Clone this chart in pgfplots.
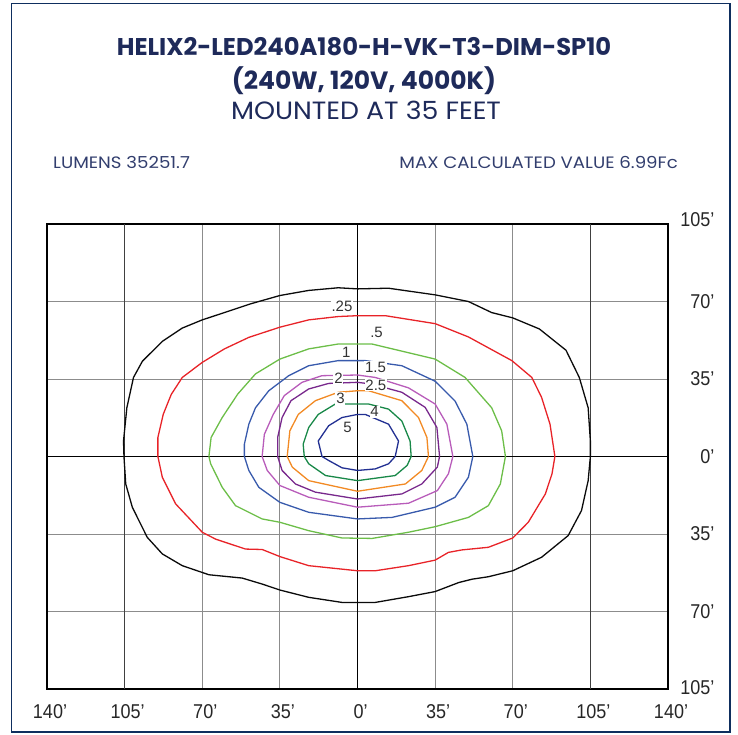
\documentclass[border=0pt]{standalone}
\usepackage{fontspec}
\usepackage{pgfplots}
\pgfplotsset{compat=1.18}
\setmainfont{Liberation Sans}
\newfontfamily\titlefont{Poppins}
\newfontfamily\tickfont{Liberation Sans}[FakeStretch=0.9]
\definecolor{navy}{RGB}{30,42,90}
\definecolor{bordernavy}{RGB}{14,46,94}
\definecolor{txtnavy}{RGB}{50,62,110}
\definecolor{cBlack}{RGB}{10,10,10}
\definecolor{cRed}{RGB}{232,35,40}
\definecolor{cGreen}{RGB}{108,190,72}
\definecolor{cBlue}{RGB}{56,90,172}
\definecolor{cPink}{RGB}{184,92,186}
\definecolor{cPurple}{RGB}{120,40,140}
\definecolor{cOrange}{RGB}{242,138,36}
\definecolor{cDGreen}{RGB}{24,136,72}
\definecolor{cDBlue}{RGB}{34,48,146}
\begin{document}
\begin{tikzpicture}[x=1pt,y=1pt]
\path[use as bounding box] (0,0) rectangle (738,734);
\draw[bordernavy, line width=1.6pt] (11.5,2) rectangle (730,730.5);
\node[anchor=base, text=navy, inner sep=0] at (364,678) {\titlefont\bfseries\fontsize{24.2}{30}\selectfont HELIX2-LED240A180-H-VK-T3-DIM-SP10};
\node[anchor=base, text=navy, inner sep=0] at (364,644) {\titlefont\bfseries\fontsize{25}{30}\selectfont (240W, 120V, 4000K)};
\node[anchor=base, text=navy, inner sep=0] at (366,614.5) {\scalebox{1.07}[1]{\titlefont\fontsize{25}{30}\selectfont MOUNTED AT 35 FEET}};
\node[anchor=base west, text=txtnavy, inner sep=0] at (53,565) {\scalebox{1.1}[1]{\titlefont\fontsize{16.5}{18}\selectfont LUMENS 35251.7}};
\node[anchor=base east, text=txtnavy, inner sep=0] at (678,565) {\scalebox{1.1}[1]{\titlefont\fontsize{16.5}{18}\selectfont MAX CALCULATED VALUE 6.99Fc}};
\begin{axis}[at={(47pt,45pt)}, anchor=south west, scale only axis,
  width=621pt, height=465pt,
  xmin=-140, xmax=140, ymin=-105, ymax=105,
  xtick={-140,-105,-70,-35,0,35,70,105,140},
  ytick={-105,-70,-35,0,35,70,105},
  xticklabels={140’,105’,70’,35’,0’,35’,70’,105’,140’},
  yticklabels={\raisebox{3pt}{105’},70’,35’,0’,35’,70’,\raisebox{8pt}{105’}},
  yticklabel pos=right,
  major tick length=0pt,
  grid=major,
  grid style={draw=black!45, line width=0.9pt},
  axis line style={line width=1.6pt},
  ticklabel style={font=\tickfont\fontsize{20}{20}\selectfont, text=black!85},
  xticklabel style={yshift=-12pt, xshift=3pt},
  yticklabel style={anchor=east, xshift=50pt},
  clip=false,
  every axis plot/.append style={line width=1.3pt, line join=round}]
\draw[black!75, line width=0.9pt] (axis cs:-105,-105) -- (axis cs:-105,105);
\draw[black!75, line width=0.9pt] (axis cs:105,-105) -- (axis cs:105,105);
\draw[black, line width=1.5pt] (axis cs:0,-105) -- (axis cs:0,105);
\draw[black, line width=1.5pt] (axis cs:-140,0) -- (axis cs:140,0);
% 0.25
\addplot[cBlack] coordinates {(0,75.7) (-8.7,76.2) (-22,75) (-35,72.7) (-48,69) (-60,65) (-70,61.7) (-79,58) (-88,52) (-97,43) (-101,35.7) (-104,22) (-105.5,7) (-105.3,0) (-104.5,-12.4) (-101.5,-23) (-94.8,-36.5) (-88,-44) (-79,-49.3) (-67,-53.4) (-52,-54.9) (-43,-57.6) (-35,-60.3) (-22,-63.6) (-7,-65.9) (8,-65.9) (23,-63.3) (35,-61) (45.7,-56.9) (51.7,-55.4) (59,-54.3) (70,-51.6) (83,-45.5) (95,-35.7) (101,-24.4) (104,-10.9) (105,0) (105,7) (104,22) (100,35.7) (94,48) (82,57.6) (70,62.6) (60.5,65) (50,70) (35,73) (14,76) (0,75.7)};
% 0.5
\addplot[cRed] coordinates {(0,63.6) (-8.7,63.2) (-22,61.7) (-35,58.4) (-49,53.8) (-60,48.6) (-70,42.5) (-79,35.7) (-84,28) (-87.6,19) (-90,8.6) (-90,0) (-88,-9.4) (-82,-21.4) (-70,-34.2) (-64,-37.3) (-50.5,-41.8) (-43,-42) (-35,-45.2) (-22,-49.3) (0,-51.6) (8,-51.6) (23,-49.3) (35,-46.8) (41,-43.3) (47,-42.2) (59,-41) (70,-36.8) (77,-29.7) (84.7,-16.9) (87.7,-7.8) (89,0) (86.8,14.6) (83,26.7) (78.6,35.7) (69.6,43.3) (50,54) (35,60) (12.5,63.6) (0,63.6)};
% 1
\addplot[cGreen] coordinates {(0,50.8) (-8.7,50.8) (-22,48.6) (-35,44) (-46,37.3) (-54,28.2) (-61,17.6) (-66,8.6) (-67,0) (-66.2,-3.3) (-61,-13.9) (-55,-22.2) (-43,-28.2) (-35,-29.7) (-22,-33.5) (-7,-36.8) (6.6,-37) (23,-34.2) (35,-31.7) (50,-27.5) (59,-22.2) (64.4,-12.4) (66.7,0) (65,11.6) (60.5,22) (48.5,35.7) (35,44) (6.5,50.8) (0,50.8)};
% 1.5
\addplot[cBlue] coordinates {(0,43.3) (-8.7,43.3) (-22,41) (-31,36.5) (-40,29.7) (-46,22) (-49,14.6) (-51,5.6) (-51,0) (-49,-6.3) (-44.5,-13.9) (-35,-20.7) (-22,-25.2) (0,-28.2) (15.6,-27.5) (35,-22.9) (44,-18.4) (50,-9.4) (52,0) (49.3,14.6) (44,25) (35,34) (20,41) (3.5,43.3) (0,43.3)};
% 2
\addplot[cPink] coordinates {(0,36.8) (-16,36.5) (-25,33.5) (-33,27.5) (-38,19) (-42,10) (-43,0) (-40.7,-6.3) (-35,-13.1) (-22,-18.4) (0,-22.9) (23,-21.1) (36,-15.4) (41,-7.8) (43,0) (40.3,14.6) (35,23.7) (23,31) (8,35.7) (0,36.8)};
% 2.5
\addplot[cPurple] coordinates {(0,33.5) (-13,33) (-22,30.5) (-30,25.2) (-34,17.6) (-36,8.6) (-36,0) (-34,-6.3) (-28,-12.4) (-19,-16.1) (0,-19.2) (20,-16.9) (29,-12.4) (36,-4.8) (37,0) (35.8,13.1) (30.5,22.2) (20,29) (6.5,32.7) (0,33.5)};
% 3
\addplot[cOrange] coordinates {(0,29.7) (-8.7,29) (-19,25.2) (-26.7,19) (-30.5,11.6) (-31.7,0) (-29.4,-4.8) (-22,-10.9) (0,-15.7) (21.6,-12.4) (29,-6.3) (32,0) (31.3,8.6) (27.5,17.6) (20,25.2) (5,29.7) (0,29.7)};
% 4
\addplot[cDGreen] coordinates {(0,23.7) (-10,23.7) (-17.7,19) (-22,13.1) (-24.5,5.6) (-24,0) (-22,-3.3) (-14.4,-8.6) (0,-10.9) (17,-8.6) (22.4,-4) (24.2,0) (23.7,7) (20,16) (14,21.4) (5,23.7) (0,23.7)};
% 5
\addplot[cDBlue] coordinates {(0,19) (-7,17.6) (-13,13.9) (-17.7,7) (-16,0) (-13,-1.8) (-7,-5.1) (0,-6.3) (8,-5.6) (14,-3.3) (17,0) (18.5,7) (14,14.6) (3.5,19) (0,19)};
\begin{scope}[every node/.style={fill=white, inner sep=0.8pt, text=black!80, font=\fontsize{15}{15}\selectfont}]
\node at (axis cs:-7,68) {.25};
\node at (axis cs:8.6,56.2) {.5};
\node at (axis cs:-5.1,47.2) {1};
\node at (axis cs:8.1,40.2) {1.5};
\node at (axis cs:-8.6,35.5) {2};
\node at (axis cs:8.3,32.3) {2.5};
\node at (axis cs:-7.7,26.2) {3};
\node at (axis cs:7.7,20.3) {4};
\node at (axis cs:-4.5,13.1) {5};
\end{scope}
\end{axis}
\end{tikzpicture}
\end{document}
